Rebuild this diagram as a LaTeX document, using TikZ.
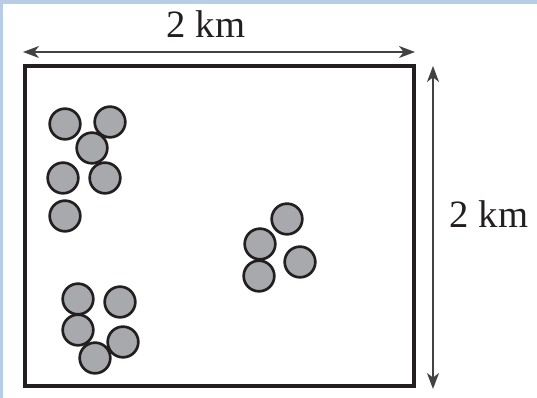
\documentclass[tikz,border=0pt]{standalone}
\usepackage{fontspec}
\setmainfont{Liberation Serif}
\usetikzlibrary{arrows.meta}
\definecolor{frameblue}{RGB}{184,204,228}
\definecolor{ink}{RGB}{35,31,32}
\definecolor{dotfill}{RGB}{167,169,172}
\tikzset{
  dot/.style={circle, draw=ink, fill=dotfill, line width=2pt, minimum size=23pt, inner sep=0pt},
  dim/.style={draw=ink!85, line width=1.1pt, {Stealth[length=12pt,width=9pt,inset=3.5pt]}-{Stealth[length=12pt,width=9pt,inset=3.5pt]}},
  lbl/.style={text=ink, font=\fontsize{29}{32}\selectfont, inner sep=0pt}
}
\begin{document}
\begin{tikzpicture}[x=0.75pt,y=-0.75pt]
\useasboundingbox (0,0) rectangle (537,398);
\fill[white] (0,0) rectangle (537,398);
\fill[frameblue] (0,0) rectangle (537,4);
\fill[frameblue] (0,0) rectangle (3,398);
% field
\draw[ink, line width=3.6pt] (25,66) rectangle (414,386);
% dimension coordinates
\coordinate (tl) at (23,52);
\coordinate (tr) at (415,52);
\coordinate (rt) at (433,66);
\coordinate (rb) at (433,389);
\draw[dim] (tl) -- (tr);
\draw[dim] (rt) -- (rb);
\node[lbl] (wlabel) at (206,24) {2 km};
\node[lbl] (hlabel) at (489,214) {2 km};
% group 1
\node[dot] (a1) at (65,124) {};
\node[dot] (a2) at (110,122) {};
\node[dot] (a3) at (92,148) {};
\node[dot] (a4) at (63,178) {};
\node[dot] (a5) at (105,178) {};
\node[dot] (a6) at (65,216) {};
% group 2
\node[dot] (b1) at (78,299) {};
\node[dot] (b2) at (120,302) {};
\node[dot] (b3) at (78,330) {};
\node[dot] (b4) at (123,342) {};
\node[dot] (b5) at (95,358) {};
% group 3
\node[dot] (c1) at (287,219) {};
\node[dot] (c2) at (260,244) {};
\node[dot] (c3) at (259,276) {};
\node[dot] (c4) at (300,262) {};
\end{tikzpicture}
\end{document}
